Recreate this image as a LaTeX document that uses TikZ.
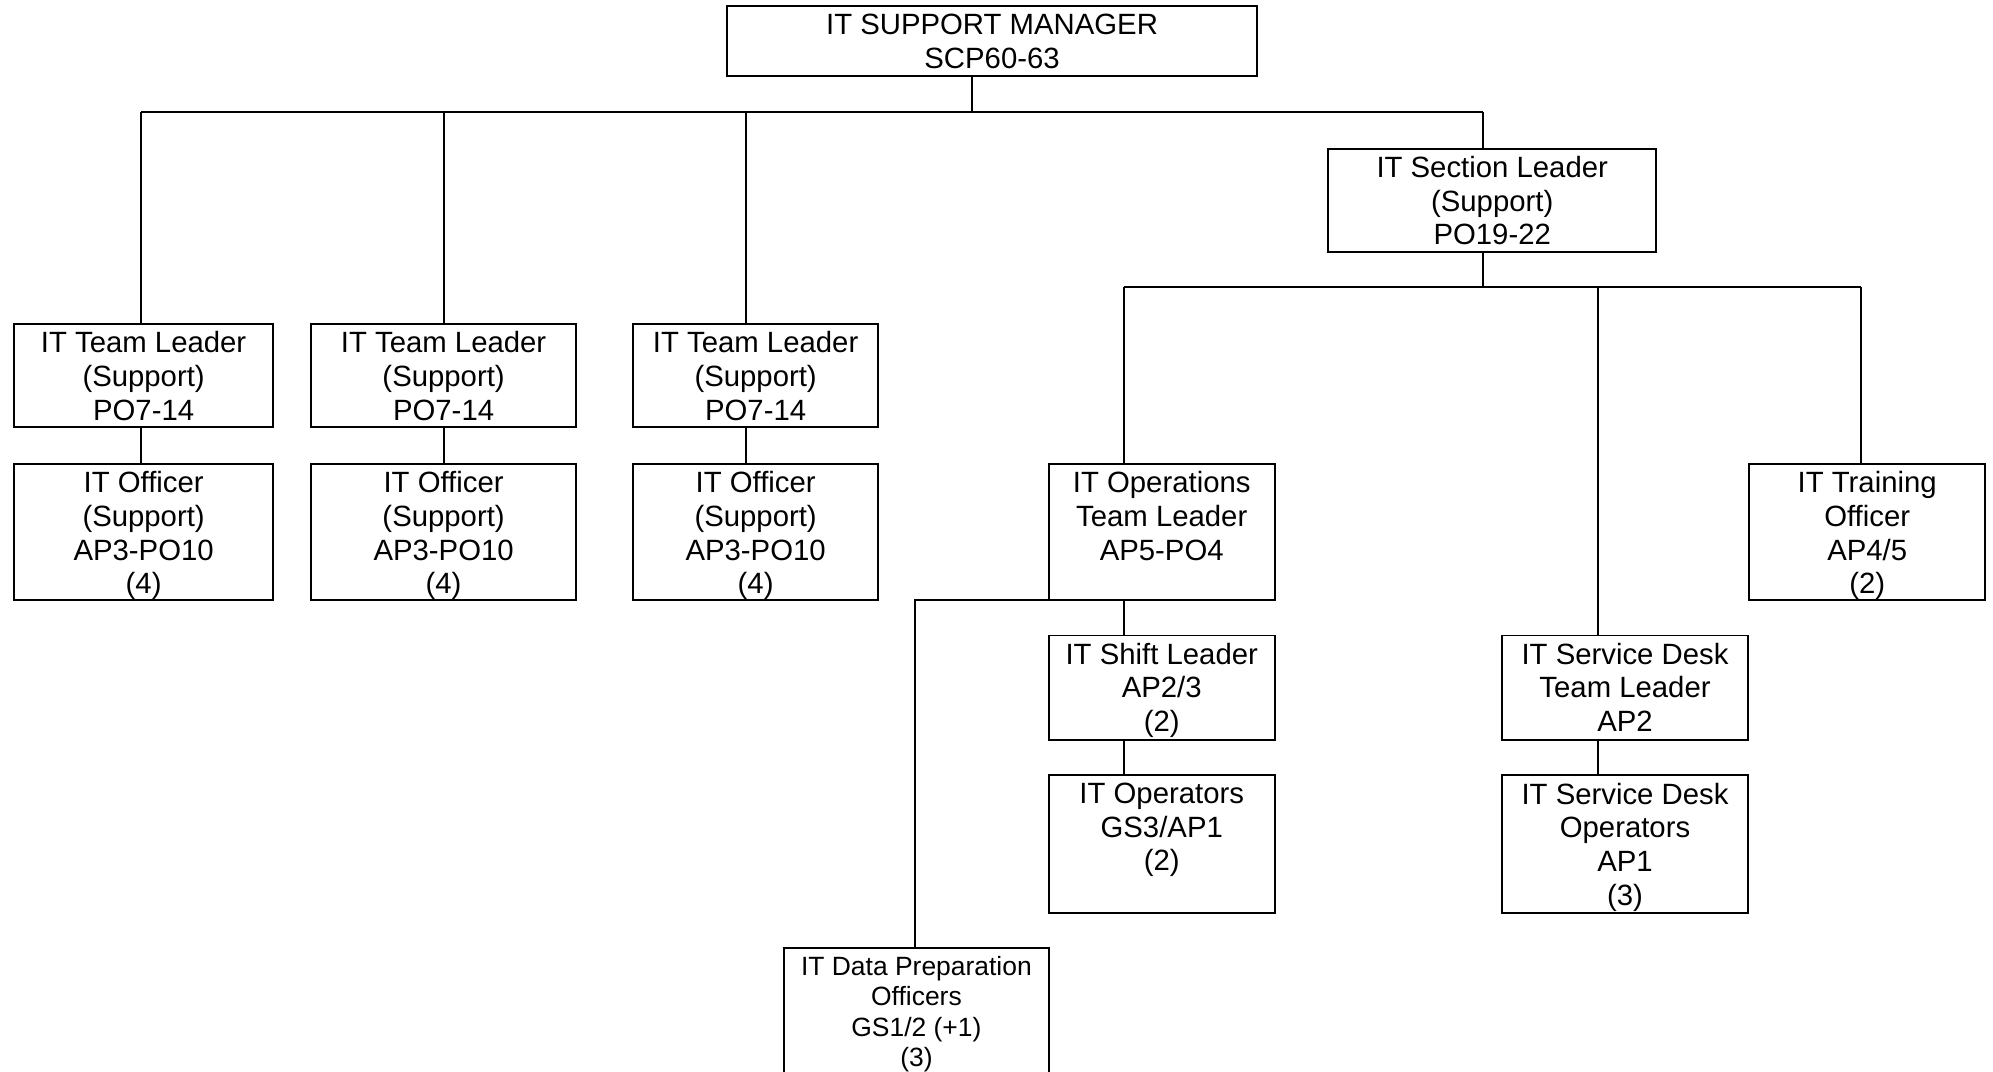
\documentclass[tikz,border=0pt]{standalone}
\usepackage{fontspec}
\setmainfont{Liberation Sans}
\usetikzlibrary{fit}
\tikzset{
  box/.style={draw, line width=1.1pt, inner sep=0pt, outer sep=0pt, rectangle},
  txt/.style={anchor=north, inner sep=0pt, outer sep=0pt, align=center,
    font=\fontsize{17.3}{19.9}\selectfont},
  smalltxt/.style={txt, font=\fontsize{15.6}{18}\selectfont},
  conn/.style={line width=1.1pt},
}
\newcommand\mkbox[5]{%
  \path (#2,#3) coordinate (#1-a) (#4,#5) coordinate (#1-b);
  \node[box, fit=(#1-a)(#1-b)] (#1) {};}
\begin{document}
\begin{tikzpicture}[x=0.75pt,y=-0.75pt]
\useasboundingbox (0,0) rectangle (1568,843);
% boxes
\mkbox{mgr}{572}{5}{989}{60}
\mkbox{sec}{1045}{117}{1303}{198}
\mkbox{tla}{11}{255}{215}{336}
\mkbox{tlb}{245}{255}{453}{336}
\mkbox{tlc}{498}{255}{691}{336}
\mkbox{ofa}{11}{365}{215}{472}
\mkbox{ofb}{245}{365}{453}{472}
\mkbox{ofc}{498}{365}{691}{472}
\mkbox{ops}{825}{365}{1003}{472}
\mkbox{trn}{1376}{365}{1562}{472}
\mkbox{shf}{825}{500}{1003}{582}
\mkbox{opr}{825}{610}{1003}{718}
\mkbox{sdl}{1182}{500}{1375}{582}
\mkbox{sdo}{1182}{610}{1375}{718}
\mkbox{dp}{617}{746}{825}{880}
% texts
\node[txt] (mgr-t) at ([yshift=-4.4pt]mgr.north) {IT SUPPORT MANAGER\\SCP60-63};
\node[txt] (sec-t) at ([yshift=-4.4pt]sec.north) {IT Section Leader\\(Support)\\PO19-22};
\node[txt] (tla-t) at ([yshift=-4.4pt]tla.north) {IT Team Leader\\(Support)\\PO7-14};
\node[txt] (tlb-t) at ([yshift=-4.4pt]tlb.north) {IT Team Leader\\(Support)\\PO7-14};
\node[txt] (tlc-t) at ([yshift=-4.4pt]tlc.north) {IT Team Leader\\(Support)\\PO7-14};
\node[txt] (ofa-t) at ([yshift=-4.4pt]ofa.north) {IT Officer\\(Support)\\AP3-PO10\\(4)};
\node[txt] (ofb-t) at ([yshift=-4.4pt]ofb.north) {IT Officer\\(Support)\\AP3-PO10\\(4)};
\node[txt] (ofc-t) at ([yshift=-4.4pt]ofc.north) {IT Officer\\(Support)\\AP3-PO10\\(4)};
\node[txt] (ops-t) at ([yshift=-4.4pt]ops.north) {IT Operations\\Team Leader\\AP5-PO4};
\node[txt] (trn-t) at ([yshift=-4.4pt]trn.north) {IT Training\\Officer\\AP4/5\\(2)};
\node[txt] (shf-t) at ([yshift=-4.4pt]shf.north) {IT Shift Leader\\AP2/3\\(2)};
\node[txt] (opr-t) at ([yshift=-4.4pt]opr.north) {IT Operators\\GS3/AP1\\(2)};
\node[txt] (sdl-t) at ([yshift=-4.4pt]sdl.north) {IT Service Desk\\Team Leader\\AP2};
\node[txt] (sdo-t) at ([yshift=-4.4pt]sdo.north) {IT Service Desk\\Operators\\AP1\\(3)};
\node[smalltxt] (dp-t) at ([yshift=-4.6pt]dp.north) {IT Data Preparation\\Officers\\GS1/2 (+1)\\(3)};
% connectors
\coordinate (j0) at (765,88);
\coordinate (j1) at (111,88);
\coordinate (j2) at (349,88);
\coordinate (j3) at (587,88);
\coordinate (j4) at (1167,88);
\draw[conn] (j0 |- mgr.south) -- (j0);
\draw[conn] (j1) -- (j4);
\draw[conn] (j1) -- (j1 |- tla.north);
\draw[conn] (j2) -- (j2 |- tlb.north);
\draw[conn] (j3) -- (j3 |- tlc.north);
\draw[conn] (j4) -- (j4 |- sec.north);
\draw[conn] (j1 |- tla.south) -- (j1 |- ofa.north);
\draw[conn] (j2 |- tlb.south) -- (j2 |- ofb.north);
\draw[conn] (j3 |- tlc.south) -- (j3 |- ofc.north);
\coordinate (k0) at (1167,226);
\coordinate (k1) at (884,226);
\coordinate (k2) at (1257,226);
\coordinate (k3) at (1464,226);
\draw[conn] (k0 |- sec.south) -- (k0);
\draw[conn] (k1) -- (k3);
\draw[conn] (k1) -- (k1 |- ops.north);
\draw[conn] (k2) -- (k2 |- sdl.north);
\draw[conn] (k3) -- (k3 |- trn.north);
\draw[conn] (k1 |- ops.south) -- (k1 |- shf.north);
\draw[conn] (k1 |- shf.south) -- (k1 |- opr.north);
\draw[conn] (k2 |- sdl.south) -- (k2 |- sdo.north);
\coordinate (m0) at (720,472);
\draw[conn] (ops.south west) -- (m0) -- (m0 |- dp.north);
\end{tikzpicture}
\end{document}
